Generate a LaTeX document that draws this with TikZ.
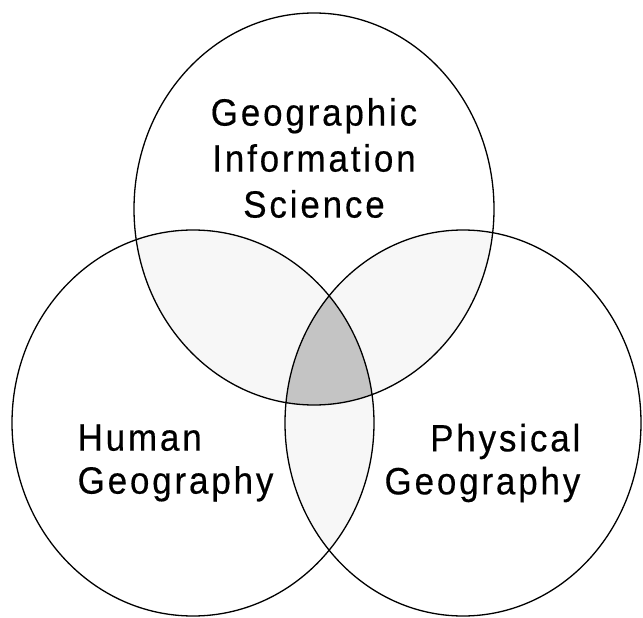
\documentclass[tikz,border=0pt]{standalone}
\usepackage{fontspec}
\setmainfont{Liberation Sans}
\newfontfamily\vennfont[LetterSpace=7.5, FakeStretch=0.92, FakeBold=0.4]{Liberation Sans}
\usepackage{tikz}

\begin{document}
\begin{tikzpicture}[x=1pt, y=-1pt, line width=1.3pt]
\tikzset{venntext/.style={font=\vennfont\fontsize{38}{46}\selectfont, inner sep=0pt}}
\useasboundingbox (0,0) rectangle (643,618);

% Centres of the three circles
\coordinate (T) at (314,209);
\coordinate (L) at (193,423);
\coordinate (R) at (463,423);

% Pairwise overlaps, lightly shaded
\begin{scope}
  \clip (T) ellipse (180 and 196);
  \fill[black!3] (L) ellipse (181 and 193);
  \fill[black!3] (R) ellipse (178 and 193);
\end{scope}
\begin{scope}
  \clip (L) ellipse (181 and 193);
  \fill[black!3] (R) ellipse (178 and 193);
\end{scope}

% Common part of all three
\begin{scope}
  \clip (T) ellipse (180 and 196);
  \clip (L) ellipse (181 and 193);
  \fill[black!23] (R) ellipse (178 and 193);
\end{scope}

% Circles
\draw (T) ellipse (180 and 196);
\draw (L) ellipse (181 and 193);
\draw (R) ellipse (178 and 193);

% Labels
\node[venntext, align=center] (gis) at (314,158) {Geographic\\Information\\Science};
\node[venntext, align=left, anchor=west, font=\vennfont\fontsize{38}{43}\selectfont] (human) at (77,463) {Human\\Geography};
\node[venntext, align=right, anchor=east, font=\vennfont\fontsize{38}{43}\selectfont] (physical) at (581,463) {Physical\\Geography};
\end{tikzpicture}
\end{document}
